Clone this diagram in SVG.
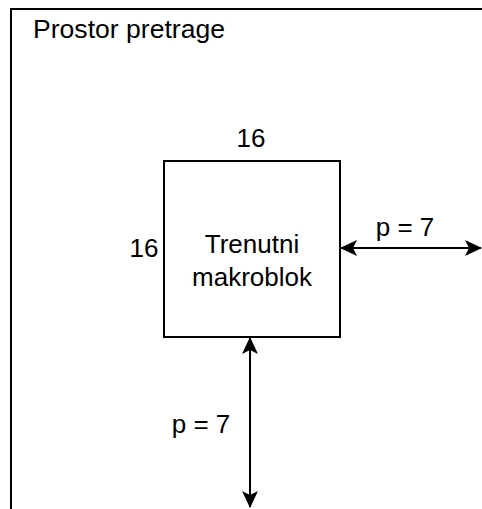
<svg xmlns="http://www.w3.org/2000/svg" width="482" height="509" viewBox="0 0 482 509">
<style>
text{font-family:"Liberation Sans",Arial,sans-serif;font-size:26px;fill:#000}
.m{text-anchor:middle}
.ln{stroke:#000;stroke-width:2;fill:none}
</style>
<defs>
<marker id="ah" viewBox="0 0 17 16" refX="16" refY="8" markerWidth="17" markerHeight="16" markerUnits="userSpaceOnUse" orient="auto-start-reverse">
<path d="M0,0 L17,8 L0,16 L4,8 Z" fill="#000"/>
</marker>
</defs>
<rect width="482" height="509" fill="#fff"/>
<g id="prostor">
<rect x="11" y="9" width="520" height="540" fill="none" stroke="#000" stroke-width="2"/>
<text x="33" y="38" textLength="192" lengthAdjust="spacingAndGlyphs">Prostor pretrage</text>
</g>
<g id="makroblok">
<rect x="164" y="161" width="176" height="176" fill="#fff" stroke="#000" stroke-width="2"/>
<text class="m" x="252" y="253">Trenutni</text>
<text class="m" x="252" y="286">makroblok</text>
</g>
<g id="dim-top"><text class="m" x="251" y="147">16</text></g>
<g id="dim-left"><text class="m" x="144" y="257">16</text></g>
<g id="connectors">
<line class="ln" x1="341" y1="248" x2="481" y2="248" marker-start="url(#ah)" marker-end="url(#ah)"/>
<line class="ln" x1="250" y1="338" x2="250" y2="507" marker-start="url(#ah)" marker-end="url(#ah)"/>
</g>
<g id="label-right"><text class="m" x="405" y="236">p = 7</text></g>
<g id="label-bottom"><text class="m" x="201" y="433">p = 7</text></g>
</svg>
